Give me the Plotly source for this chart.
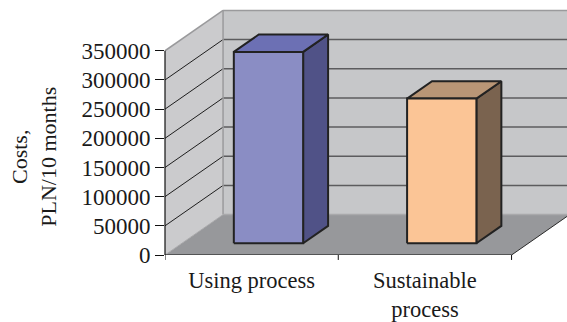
import plotly.graph_objects as go

# --- data ---------------------------------------------------------------
categories = ["Using process", "Sustainable<br>process"]
costs = [328000, 248000]
y_ticks = [0, 50000, 100000, 150000, 200000, 250000, 300000, 350000]
y_title = "Costs,<br>PLN/10 months"

# --- pseudo-3D geometry (in axis units) --------------------------------
Y_MAX = 350000          # top of the walls
Y_RANGE_TOP = 437000    # visible y range
X_RANGE_RIGHT = 2.32    # visible x range
DX, DY = 0.335, 69200   # offset of the back plane
BAR_W = 0.40            # bar width (category units)
D0, D1 = 0.29, 0.72     # bar depth span (fraction of floor depth)

FONT = "Liberation Serif, Times New Roman, serif"


def proj(x, y, d):
    """Project a point (x, y, depth) onto the 2-D axes."""
    return x + d * DX, y + d * DY


def poly_path(pts):
    return "M " + " L ".join(f"{px},{py}" for px, py in pts) + " Z"


def line_shape(p, q, color, width=1, layer="below"):
    return dict(type="line", xref="x", yref="y", x0=p[0], y0=p[1],
                x1=q[0], y1=q[1], line=dict(color=color, width=width),
                layer=layer)


n = len(categories)
shapes = []

# floor
floor = [proj(0, 0, 0), proj(n, 0, 0), proj(n, 0, 1), proj(0, 0, 1)]
shapes.append(dict(type="path", xref="x", yref="y", path=poly_path(floor),
                   fillcolor="#97989b", line=dict(width=0), layer="below"))
# left wall
left = [proj(0, 0, 0), proj(0, 0, 1), proj(0, Y_MAX, 1), proj(0, Y_MAX, 0)]
shapes.append(dict(type="path", xref="x", yref="y", path=poly_path(left),
                   fillcolor="#cbcbcd", line=dict(width=0), layer="below"))
# back wall
back = [proj(0, 0, 1), proj(n + 1, 0, 1), proj(n + 1, Y_MAX, 1), proj(0, Y_MAX, 1)]
shapes.append(dict(type="path", xref="x", yref="y", path=poly_path(back),
                   fillcolor="#c6c7c9", line=dict(width=0), layer="below"))

# gridlines on the walls
for v in y_ticks[1:-1]:
    shapes.append(line_shape(proj(0, v, 0), proj(0, v, 1), "#1e1e1e", 1))
    shapes.append(line_shape(proj(0, v, 1), proj(n + 1, v, 1), "#5c5c5e", 1.5))

# wall / floor edges
shapes.append(line_shape(proj(0, Y_MAX, 0), proj(0, Y_MAX, 1), "#9a9a9c", 1.5))
shapes.append(line_shape(proj(0, Y_MAX, 1), proj(n + 1, Y_MAX, 1), "#9a9a9c", 1.5))
shapes.append(line_shape(proj(0, 0, 1), proj(0, Y_MAX, 1), "#9a9a9c", 1.5))
shapes.append(line_shape(proj(0, 0, 1), proj(n + 1, 0, 1), "#a9a9ab", 1.5))
shapes.append(line_shape(proj(0, 0, 1), proj(0, 0, 0), "#a9a9ab", 1))
shapes.append(line_shape(proj(n, 0, 0), proj(n, 0, 1), "#2a2a2a", 1))

# value axis line and category axis line
shapes.append(dict(type="line", xref="paper", yref="y", x0=0, x1=0,
                   y0=0, y1=Y_MAX, line=dict(color="#111", width=1.2)))
shapes.append(dict(type="line", xref="x", yref="y", x0=0, x1=n,
                   y0=0, y1=0, line=dict(color="#111", width=1.2)))
# category separator ticks
for k in range(n + 1):
    shapes.append(dict(type="line", xref="x", yref="paper", x0=k, x1=k,
                       y0=0, y1=-5 / 257, line=dict(color="#111", width=1)))

fig = go.Figure()

# bars: front, top and side faces
bar_colors = [
    ("#8a8dc4", "#6c70b4", "#505287"),
    ("#fbc596", "#b99676", "#7a634f"),
]
for i, (name, val) in enumerate(zip(categories, costs)):
    x0 = i + 0.5 - BAR_W / 2
    x1 = i + 0.5 + BAR_W / 2
    front = [proj(x0, 0, D0), proj(x1, 0, D0), proj(x1, val, D0), proj(x0, val, D0)]
    top = [proj(x0, val, D0), proj(x1, val, D0), proj(x1, val, D1), proj(x0, val, D1)]
    side = [proj(x1, 0, D0), proj(x1, 0, D1), proj(x1, val, D1), proj(x1, val, D0)]
    cf, ct, cs = bar_colors[i]
    for face, col in ((side, cs), (top, ct), (front, cf)):
        xs = [p[0] for p in face] + [face[0][0]]
        ys = [p[1] for p in face] + [face[0][1]]
        fig.add_trace(go.Scatter(
            x=xs, y=ys, mode="lines", fill="toself", fillcolor=col,
            line=dict(color="#222222", width=2), hoverinfo="skip",
            showlegend=False))

fig.update_layout(
    width=567, height=322,
    margin=dict(l=165, r=0, t=0, b=65),
    paper_bgcolor="white", plot_bgcolor="white",
    shapes=shapes,
    font=dict(family=FONT, color="#1a1a1a"),
    xaxis=dict(range=[0, X_RANGE_RIGHT], tickvals=[0.5, 1.5],
               ticktext=categories, showgrid=False, zeroline=False,
               showline=False, ticks="", fixedrange=True,
               ticklabelstandoff=9,
               tickfont=dict(family=FONT, size=22.5, color="#1a1a1a")),
    yaxis=dict(range=[0, Y_RANGE_TOP], tickvals=y_ticks,
               ticktext=[str(v) for v in y_ticks], showgrid=False,
               zeroline=False, showline=False, ticks="outside", ticklen=9,
               tickcolor="#111", tickwidth=1, fixedrange=True,
               tickfont=dict(family=FONT, size=23, color="#1a1a1a")),
    annotations=[dict(text=y_title, xref="paper", yref="paper",
                      x=(34 - 165) / 402, y=(257 - 158) / 257,
                      xanchor="center", yanchor="middle", textangle=-90,
                      showarrow=False,
                      font=dict(family=FONT, size=22, color="#1a1a1a"))],
)

fig.write_html("out.html")
